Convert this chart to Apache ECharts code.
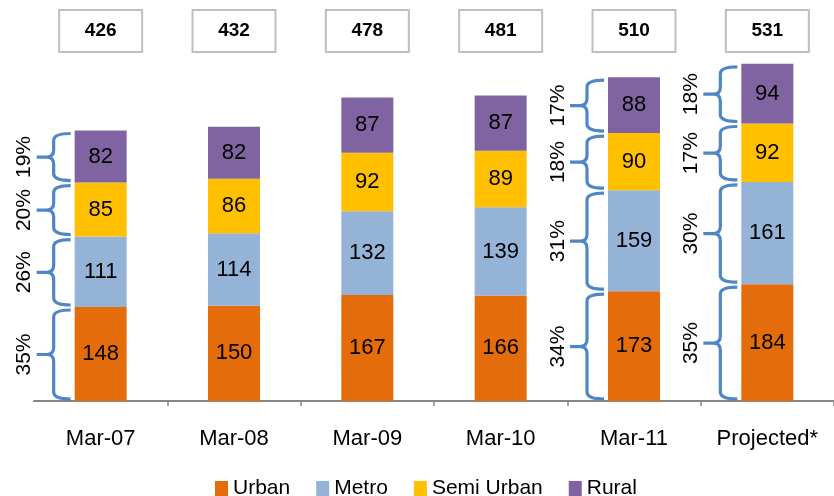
<!DOCTYPE html>
<html>
<head>
<meta charset="utf-8">
<script src="https://cdn.jsdelivr.net/npm/echarts@6/dist/echarts.min.js"></script>
<style>
  html, body { margin: 0; padding: 0; background: #fff; }
  #chart { width: 834px; height: 496px; }
</style>
</head>
<body>
<div id="chart"></div>
<script>
// Outlets by population group (count), stacked per period
var categories = ['Mar-07', 'Mar-08', 'Mar-09', 'Mar-10', 'Mar-11', 'Projected*'];
var urban     = [148, 150, 167, 166, 173, 184];
var metro     = [111, 114, 132, 139, 159, 161];
var semiUrban = [85, 86, 92, 89, 90, 92];
var rural     = [82, 82, 87, 87, 88, 94];
var seriesNames = ['Urban', 'Metro', 'Semi Urban', 'Rural'];
// Periods that carry share-of-total braces
var bracedCategories = ['Mar-07', 'Mar-11', 'Projected*'];

var colors = ['#E46C0A', '#95B3D7', '#FFC000', '#8064A2'];
var FONT = '"Liberation Sans", Arial, sans-serif';
var stacks = [urban, metro, semiUrban, rural];

var totals = categories.map(function (c, i) {
  return stacks.reduce(function (s, arr) { return s + arr[i]; }, 0);
});

function barSeries(name, data, color) {
  return {
    name: name,
    type: 'bar',
    stack: 'total',
    barWidth: 52,
    data: data,
    itemStyle: { color: color },
    label: {
      show: true,
      position: 'inside',
      color: '#000',
      fontSize: 22,
      fontFamily: FONT
    },
    z: 2
  };
}

// Curly brace pointing left, spanning yt..yb
function bracePath(xt, xv, xp, yt, yb) {
  var r = 7;
  var ym = (yt + yb) / 2;
  return 'M' + xt + ' ' + yt +
    ' Q' + xv + ' ' + yt + ' ' + xv + ' ' + (yt + r) +
    ' L' + xv + ' ' + (ym - r) +
    ' Q' + xv + ' ' + ym + ' ' + (xv - r) + ' ' + ym +
    ' L' + xp + ' ' + ym +
    ' M' + (xv - r) + ' ' + ym +
    ' Q' + xv + ' ' + ym + ' ' + xv + ' ' + (ym + r) +
    ' L' + xv + ' ' + (yb - r) +
    ' Q' + xv + ' ' + yb + ' ' + xt + ' ' + yb;
}

var braceData = bracedCategories.map(function (c) {
  var i = categories.indexOf(c);
  return [i, totals[i]];
});

var totalData = categories.map(function (c, i) { return [i, totals[i]]; });

var option = {
  animation: false,
  grid: { left: 34, right: -4, top: 20, bottom: 95, containLabel: false },
  legend: {
    data: seriesNames,
    left: 210,
    top: 473,
    itemWidth: 13,
    itemHeight: 15,
    itemGap: 26,
    icon: 'rect',
    textStyle: { fontSize: 21, color: '#000', fontFamily: FONT }
  },
  xAxis: {
    type: 'category',
    data: categories,
    axisLine: { show: true, lineStyle: { color: '#868686', width: 2 } },
    axisTick: {
      show: true,
      length: 5,
      interval: function (i) { return i > 0; },
      lineStyle: { color: '#868686', width: 1.5 }
    },
    axisLabel: { color: '#000', fontSize: 22, fontFamily: FONT, margin: 27 }
  },
  yAxis: {
    type: 'value',
    min: 0,
    max: 600,
    show: false,
    splitLine: { show: false }
  },
  series: [
    barSeries(seriesNames[0], urban, colors[0]),
    barSeries(seriesNames[1], metro, colors[1]),
    barSeries(seriesNames[2], semiUrban, colors[2]),
    barSeries(seriesNames[3], rural, colors[3]),
    {
      // share-of-total braces with rotated percentages
      type: 'custom',
      name: 'shares',
      data: braceData,
      encode: { x: 0, y: 1 },
      z: 5,
      silent: true,
      renderItem: function (params, api) {
        var idx = api.value(0);
        var total = totals[idx];
        var barLeft = api.coord([idx, 0])[0] - 26;
        var xt = barLeft - 4, xv = barLeft - 21, xp = barLeft - 38, xText = barLeft - 50;
        var children = [];
        var cum = 0;
        stacks.forEach(function (arr) {
          var v = arr[idx];
          var yb = api.coord([idx, cum])[1] - 2;
          var yt = api.coord([idx, cum + v])[1] + 3;
          cum += v;
          children.push({
            type: 'path',
            shape: { pathData: bracePath(xt, xv, xp, yt, yb) },
            style: { stroke: '#4F86C6', lineWidth: 3.2, fill: null }
          });
          children.push({
            type: 'text',
            x: xText,
            y: (yt + yb) / 2,
            rotation: Math.PI / 2,
            style: {
              text: Math.round(v / total * 100) + '%',
              fill: '#000',
              font: '21px ' + FONT,
              align: 'center',
              verticalAlign: 'middle'
            }
          });
        });
        return { type: 'group', children: children };
      }
    },
    {
      // boxed totals above each column
      type: 'custom',
      name: 'totals',
      data: totalData,
      encode: { x: 0, y: 1 },
      z: 5,
      silent: true,
      renderItem: function (params, api) {
        var idx = api.value(0);
        var cx = api.coord([idx, 0])[0];
        var top = params.coordSys.y - 10;
        return {
          type: 'group',
          children: [
            {
              type: 'rect',
              shape: { x: cx - 41.5, y: top, width: 83, height: 42 },
              style: { fill: '#fff', stroke: '#BFBFBF', lineWidth: 2 }
            },
            {
              type: 'text',
              x: cx,
              y: top + 21,
              style: {
                text: String(api.value(1)),
                fill: '#000',
                font: 'bold 19px ' + FONT,
                align: 'center',
                verticalAlign: 'middle'
              }
            }
          ]
        };
      }
    }
  ]
};

var chart = echarts.init(document.getElementById('chart'), null, { renderer: 'canvas' });
chart.setOption(option);
</script>
</body>
</html>
